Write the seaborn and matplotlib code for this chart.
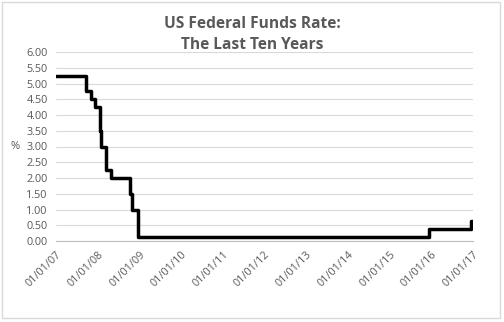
import matplotlib
matplotlib.use("Agg")
import matplotlib.pyplot as plt
from matplotlib.patches import Rectangle
import pandas as pd
import seaborn as sns

# Federal funds target rate (midpoint of range after Dec 2008), step changes
change_dates = ["2007-01-01", "2007-09-18", "2007-10-31", "2007-12-11",
                "2008-01-22", "2008-01-30", "2008-03-18", "2008-04-30",
                "2008-10-08", "2008-10-29", "2008-12-16", "2015-12-16",
                "2016-12-14", "2017-01-01"]
rates = [5.25, 4.75, 4.50, 4.25, 3.50, 3.00, 2.25, 2.00,
         1.50, 1.00, 0.125, 0.375, 0.625, 0.625]
tick_years = list(range(2007, 2018))
y_ticks = [0.0, 0.5, 1.0, 1.5, 2.0, 2.5, 3.0, 3.5, 4.0, 4.5, 5.0, 5.5, 6.0]

df = pd.DataFrame({"date": pd.to_datetime(change_dates), "rate": rates})

sns.set_style("white")
plt.rcParams["font.family"] = ["Open Sans", "DejaVu Sans"]

fig = plt.figure(figsize=(5.04, 3.22), dpi=100)
ax = fig.add_axes([56 / 504, 1 - 241 / 322, (473 - 56) / 504, (241 - 52) / 322])

sns.lineplot(data=df, x="date", y="rate", ax=ax, color="black",
             linewidth=2.5, drawstyle="steps-post")

grey = "#595959"
ax.set_ylim(0, 6)
ax.set_yticks(y_ticks)
ax.set_yticklabels([f"{v:.2f}" for v in y_ticks], fontsize=7.8, color=grey)
ax.yaxis.grid(True, color="#d9d9d9", linewidth=0.8)
ax.set_axisbelow(True)

xt = pd.to_datetime([f"{y}-01-01" for y in tick_years])
ax.set_xlim(xt[0], xt[-1])
ax.set_xticks(xt)
ax.set_xticklabels([d.strftime("%m/%d/%y") for d in xt], rotation=45,
                   ha="right", rotation_mode="anchor", fontsize=7.8, color=grey)
ax.tick_params(axis="x", length=4, width=0.8, color="#bfbfbf", pad=2)
ax.tick_params(axis="y", length=0, pad=6)

for s in ["top", "right", "left"]:
    ax.spines[s].set_visible(False)
ax.spines["bottom"].set_color("#bfbfbf")
ax.spines["bottom"].set_linewidth(0.8)

ax.set_xlabel("")
ax.set_ylabel("%", rotation=0, fontsize=8, color=grey, labelpad=8, va="center")

fig.text(0.5, 1 - 34.5 / 322, "US Federal Funds Rate:\nThe Last Ten Years",
         ha="center", va="center", fontsize=11.2, fontweight="bold",
         color=grey, linespacing=1.4)

fig.patches.append(Rectangle((2 / 504, 1 - 318 / 322), 498 / 504, 316 / 322,
                             transform=fig.transFigure, fill=False,
                             edgecolor="#d9d9d9", linewidth=1))

fig.savefig("out.png", dpi=100)
